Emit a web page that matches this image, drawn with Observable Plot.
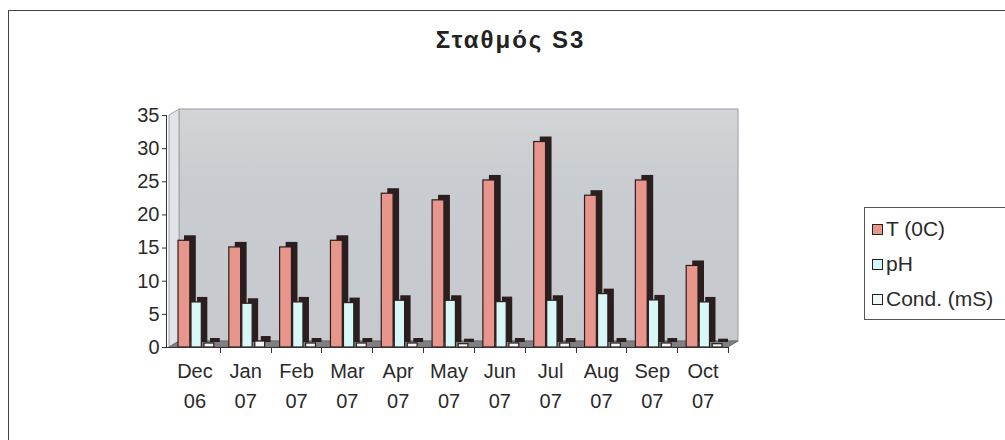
<!DOCTYPE html>
<html>
<head>
<meta charset="utf-8">
<script src="https://cdn.jsdelivr.net/npm/d3@7"></script>
<script src="https://cdn.jsdelivr.net/npm/@observablehq/plot@0.6"></script>
<style>
  html, body { margin: 0; padding: 0; background: #ffffff; }
  #wrap { position: relative; width: 1005px; height: 440px; overflow: hidden; font-family: "Liberation Sans", Arial, sans-serif; color: #222; }
  #frame { position: absolute; left: 8px; top: 10px; width: 1100px; height: 500px; border-left: 1px solid #444; border-top: 1px solid #444; }
  #title { position: absolute; left: 0; top: 26px; width: 1021px; text-align: center; font-weight: bold; font-size: 24px; letter-spacing: 2px; }
  #chart { position: absolute; left: 0; top: 0; }
  #legend { position: absolute; left: 864px; top: 207px; width: 160px; height: 111px; border: 1px solid #555; background: #fff; }
  .item { position: absolute; left: 7px; height: 24px; display: flex; align-items: center; font-size: 21px; white-space: nowrap; color: #2a2a2a; }
  .sw { width: 9px; height: 9px; border: 1.5px solid #222; margin-right: 3px; }
</style>
</head>
<body>
<div id="wrap">
  <div id="frame"></div>
  <div id="title">Σταθμός S3</div>
  <div id="chart"></div>
  <div id="legend"></div>
</div>
<script>
// ---- data ----
const months = ["Dec","Jan","Feb","Mar","Apr","May","Jun","Jul","Aug","Sep","Oct"];
const years  = ["06","07","07","07","07","07","07","07","07","07","07"];
const tempC  = [16.1, 15.1, 15.1, 16.1, 23.2, 22.2, 25.2, 31.0, 22.9, 25.2, 12.3];
const pH     = [6.8, 6.6, 6.8, 6.7, 7.05, 7.05, 6.85, 7.05, 8.05, 7.1, 6.8];
const cond   = [0.6, 0.9, 0.6, 0.6, 0.6, 0.5, 0.6, 0.6, 0.6, 0.6, 0.5];
const seriesNames = ["T (0C)", "pH", "Cond. (mS)"];
const seriesColors = ["#e8958c", "#d8f8f8", "#f2f6f6"];
const yTicks = [0, 5, 10, 15, 20, 25, 30, 35];

const cats = months.map((m, i) => m + " " + years[i]);
const seriesValues = [tempC, pH, cond];
const rows = seriesValues.map(vals => vals.map((v, i) => ({cat: cats[i], value: v})));

const dark = "#2a1e1e";
const depthX = 6, depthY = -5;
const wallDX = 10, wallDY = -6;
// horizontal placement of each series' front face within a month band
const insets = [[9, 30], [22, 18.5], [35, 6]];

function backdrop(index, {x}, values, dim) {
  const g = d3.create("svg:g");
  const L = dim.marginLeft, R = dim.width - dim.marginRight;
  const B = dim.height - dim.marginBottom, T = dim.marginTop;
  const grad = g.append("defs").append("linearGradient").attr("id", "wallg").attr("x1", 0).attr("x2", 0).attr("y1", 0).attr("y2", 1);
  grad.append("stop").attr("offset", "0%").attr("stop-color", "#d3d5d8");
  grad.append("stop").attr("offset", "30%").attr("stop-color", "#c9ccd0");
  grad.append("stop").attr("offset", "100%").attr("stop-color", "#c6c9ce");
  // back wall
  g.append("rect").attr("x", L + wallDX).attr("y", T + wallDY).attr("width", R - L).attr("height", B - T)
    .attr("fill", "url(#wallg)").attr("stroke", "#9a9ca0");
  // left wall
  g.append("polygon").attr("points", [[L, B], [L + wallDX, B + wallDY], [L + wallDX, T + wallDY], [L, T]].join(" "))
    .attr("fill", "#e2e3e6").attr("stroke", "#a0a2a6");
  // floor
  g.append("polygon").attr("points", [[L, B], [R, B], [R + wallDX, B + wallDY], [L + wallDX, B + wallDY]].join(" "))
    .attr("fill", "#808084").attr("stroke", "#6a6a6e");
  return g.node();
}

function axesLines(index, {x}, values, dim) {
  const g = d3.create("svg:g").attr("stroke", "#333").attr("stroke-width", 1);
  const L = dim.marginLeft, R = dim.width - dim.marginRight;
  const B = dim.height - dim.marginBottom, T = dim.marginTop;
  g.append("line").attr("x1", L - 2.5).attr("x2", L - 2.5).attr("y1", T).attr("y2", B);
  g.append("line").attr("x1", L - 2.5).attr("x2", R).attr("y1", B + 0.5).attr("y2", B + 0.5);
  const bw = x(cats[1]) - x(cats[0]);
  cats.forEach(c => {
    const xb = Math.round(x(c) + bw) + 0.5;
    g.append("line").attr("x1", xb).attr("x2", xb).attr("y1", B).attr("y2", B + 6);
  });
  return g.node();
}

const barMarks = [];
rows.forEach((data, s) => {
  const [il, ir] = insets[s];
  barMarks.push(Plot.barY(data, {x: "cat", y: "value", insetLeft: il, insetRight: ir, dx: depthX, dy: depthY, fill: dark}));
  barMarks.push(Plot.barY(data, {x: "cat", y: "value", insetLeft: il, insetRight: ir, fill: seriesColors[s], stroke: dark, strokeWidth: 1.2}));
});

const chart = Plot.plot({
  width: 1005,
  height: 440,
  marginTop: 115,
  marginBottom: 93,
  marginLeft: 169,
  marginRight: 277,
  style: {fontFamily: "'Liberation Sans', Arial, sans-serif", fontSize: "20px", color: "#2a2a2a", background: "transparent", overflow: "visible"},
  x: {type: "band", domain: cats, padding: 0, round: false, label: null},
  y: {domain: [0, 35], label: null},
  marks: [
    backdrop,
    ...barMarks,
    axesLines,
    Plot.axisY({ticks: yTicks, tickSize: 5, tickPadding: 3, fontSize: 20, label: null, stroke: "#333", dx: -2}),
    Plot.axisX({tickSize: 0, tickPadding: 16, fontSize: 20, label: null, tickFormat: d => d.split(" ")[0]}),
    Plot.axisX({tickSize: 0, tickPadding: 46, fontSize: 20, label: null, tickFormat: d => d.split(" ")[1]})
  ]
});
document.getElementById("chart").appendChild(chart);

// legend
const legend = document.getElementById("legend");
const rowTops = [9, 44, 79];
seriesNames.forEach((name, i) => {
  const it = document.createElement("div");
  it.className = "item";
  it.style.top = rowTops[i] + "px";
  const sw = document.createElement("span");
  sw.className = "sw";
  sw.style.background = seriesColors[i];
  const tx = document.createElement("span");
  tx.textContent = name;
  it.appendChild(sw);
  it.appendChild(tx);
  legend.appendChild(it);
});
</script>
</body>
</html>
